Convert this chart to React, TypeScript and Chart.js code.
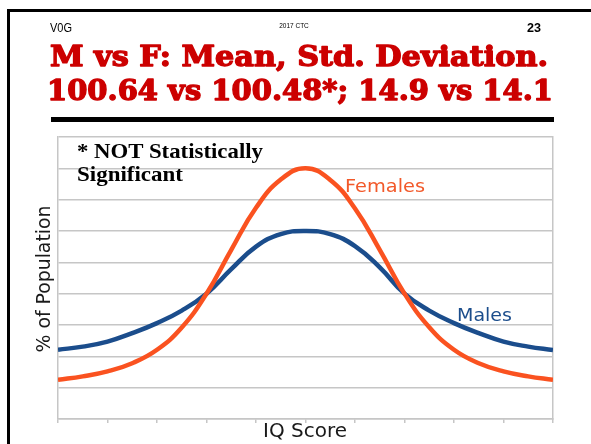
import React, { useEffect, useRef } from "react";
import { Chart, registerables } from "chart.js";

Chart.register(...registerables);

// IQ score positions along the x axis (relative units, 0..10)
const iqSteps = [0, 0.5, 1, 1.5, 2, 2.5, 3, 3.5, 4, 4.5, 5, 5.5, 6, 6.5, 7, 7.5, 8, 8.5, 9, 9.5, 10];
const femalesPct = [1.25, 1.36, 1.52, 1.78, 2.21, 2.92, 4.0, 5.4, 6.74, 7.64, 8.0, 7.63, 6.72, 5.4, 4.0, 2.93, 2.21, 1.78, 1.52, 1.36, 1.25];
const malesPct = [2.21, 2.31, 2.47, 2.74, 3.06, 3.46, 4.0, 4.78, 5.5, 5.9, 6.0, 5.9, 5.52, 4.84, 4.0, 3.46, 3.06, 2.74, 2.47, 2.31, 2.2];
const yRange = [0, 9];
const xRange = [0, 10];

const seriesNames = ["Females", "Males"];
const titleLines = ["M vs F: Mean, Std. Deviation.", "100.64 vs 100.48*; 14.9 vs 14.1"];
const noteLines = ["* NOT Statistically", "Significant"];

const FEMALE_COLOR = "#FA5220";
const MALE_COLOR = "#1B4D8C";
const GRID_COLOR = "#C6C6C6";

export default function App() {
  const canvasRef = useRef<HTMLCanvasElement | null>(null);

  useEffect(() => {
    const canvas = canvasRef.current;
    if (!canvas) return;
    const chart = new Chart(canvas, {
      type: "line",
      data: {
        datasets: [
          {
            label: seriesNames[0],
            data: iqSteps.map((x, i) => ({ x, y: femalesPct[i] })),
            borderColor: FEMALE_COLOR,
            borderWidth: 4.5,
            pointRadius: 0,
            tension: 0.45,
            fill: false,
          },
          {
            label: seriesNames[1],
            data: iqSteps.map((x, i) => ({ x, y: malesPct[i] })),
            borderColor: MALE_COLOR,
            borderWidth: 4.5,
            pointRadius: 0,
            tension: 0.45,
            fill: false,
          },
        ],
      },
      options: {
        responsive: false,
        animation: false,
        devicePixelRatio: 1,
        layout: { padding: { left: 58, top: 137, right: 38, bottom: 21 } },
        plugins: { legend: { display: false }, tooltip: { enabled: false }, title: { display: false } },
        events: [],
        scales: {
          x: {
            type: "linear",
            min: xRange[0],
            max: xRange[1],
            ticks: { display: false, stepSize: 1 },
            grid: { drawOnChartArea: false, drawTicks: true, tickLength: 4, color: GRID_COLOR, lineWidth: 1.5 },
            border: { display: true, color: GRID_COLOR, width: 1.5 },
          },
          y: {
            type: "linear",
            min: yRange[0],
            max: yRange[1],
            ticks: { display: false, stepSize: 1 },
            grid: { drawTicks: false, color: GRID_COLOR, lineWidth: 1.5 },
            border: { display: true, color: GRID_COLOR, width: 1.5 },
          },
          y2: {
            type: "linear",
            position: "right",
            min: yRange[0],
            max: yRange[1],
            ticks: { display: false },
            grid: { display: false, drawTicks: false },
            border: { display: true, color: GRID_COLOR, width: 1.5 },
          },
        },
      },
    });
    return () => chart.destroy();
  }, []);

  return (
    <div style={{ position: "fixed", left: 0, top: 0, width: 591, height: 444, background: "#fff", overflow: "hidden" }}>
      <canvas ref={canvasRef} width={591} height={444} style={{ position: "absolute", left: 0, top: 0, width: 591, height: 444 }} />
      <svg width={591} height={444} style={{ position: "absolute", left: 0, top: 0, pointerEvents: "none" }}>
        {/* slide frame */}
        <rect x={7} y={9} width={584} height={3} fill="#000" />
        <rect x={7} y={9} width={3} height={435} fill="#000" />
        {/* header */}
        <text x={50} y={31.5} fontFamily="Liberation Sans, Arial, sans-serif" fontSize={12.5} fill="#000" textLength={22} lengthAdjust="spacingAndGlyphs">V0G</text>
        <text x={294} y={28} textAnchor="middle" fontFamily="Liberation Sans, Arial, sans-serif" fontSize={6.5} fill="#000">2017 CTC</text>
        <text x={527} y={31.5} fontFamily="Liberation Sans, Arial, sans-serif" fontWeight="bold" fontSize={12.5} fill="#000" textLength={14} lengthAdjust="spacingAndGlyphs">23</text>
        {/* title */}
        <text x={50} y={65.5} fontFamily="DejaVu Serif, serif" fontWeight="bold" fontSize={27} fill="#CC0000" stroke="#CC0000" strokeWidth={1.3} strokeLinejoin="round" textLength={498} lengthAdjust="spacingAndGlyphs">{titleLines[0]}</text>
        <text x={47} y={99.5} fontFamily="DejaVu Serif, serif" fontWeight="bold" fontSize={27} fill="#CC0000" stroke="#CC0000" strokeWidth={1.3} strokeLinejoin="round" textLength={506} lengthAdjust="spacingAndGlyphs">{titleLines[1]}</text>
        <rect x={51} y={117} width={503} height={5} fill="#000" />
        {/* note */}
        <text x={77} y={158.3} fontFamily="Liberation Serif, Times New Roman, serif" fontWeight="bold" fontSize={22} fill="#000" textLength={186} lengthAdjust="spacingAndGlyphs">{noteLines[0]}</text>
        <text x={77} y={180.5} fontFamily="Liberation Serif, Times New Roman, serif" fontWeight="bold" fontSize={22} fill="#000" textLength={106} lengthAdjust="spacingAndGlyphs">{noteLines[1]}</text>
        {/* series labels */}
        <text x={345} y={192} fontFamily="DejaVu Sans, sans-serif" fontSize={18} fill="#F2592A" textLength={80} lengthAdjust="spacingAndGlyphs">{seriesNames[0]}</text>
        <text x={457} y={321} fontFamily="DejaVu Sans, sans-serif" fontSize={18} fill={MALE_COLOR} textLength={55} lengthAdjust="spacingAndGlyphs">{seriesNames[1]}</text>
        {/* axis titles */}
        <text transform="translate(49.5,279) rotate(-90)" x={0} y={0} textAnchor="middle" fontFamily="DejaVu Sans, sans-serif" fontSize={19} fill="#1a1a1a" textLength={147} lengthAdjust="spacingAndGlyphs">% of Population</text>
        <text x={263} y={437} fontFamily="DejaVu Sans, sans-serif" fontSize={19} fill="#1a1a1a" textLength={84} lengthAdjust="spacingAndGlyphs">IQ Score</text>
      </svg>
    </div>
  );
}
